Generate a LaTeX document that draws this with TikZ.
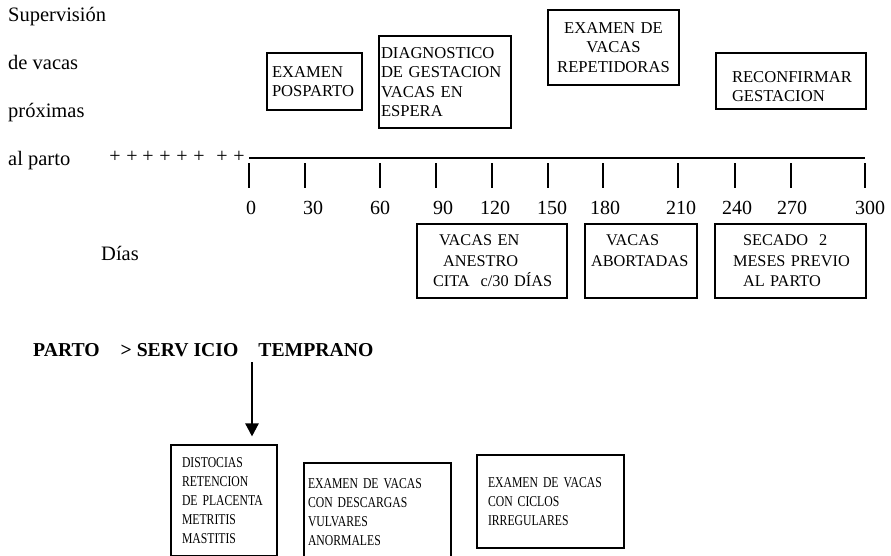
\documentclass[tikz,border=0pt]{standalone}
\usepackage{fontspec}
\setmainfont{Liberation Serif}
\newfontfamily\angosta[FakeStretch=0.78]{Liberation Serif}
\usetikzlibrary{arrows.meta}
\tikzset{
  rotulo/.style={anchor=base west, inner sep=0pt, font=\fontsize{20.5}{24}\selectfont},
  cruz/.style={inner sep=0pt, font=\fontsize{20}{24}\selectfont},
  cifra/.style={anchor=base, inner sep=0pt, font=\fontsize{20}{24}\selectfont},
  eje/.style={line width=1.3pt},
  caja/.style={draw, line width=1.1pt, align=left, inner ysep=0pt, font=\fontsize{16.6}{19.5}\selectfont},
  cajamedia/.style={caja, font=\fontsize{16.3}{20.5}\selectfont},
  cajabaja/.style={caja, font=\angosta\fontsize{15}{18.8}\selectfont},
  titulo/.style={anchor=base west, inner sep=0pt, font=\bfseries\fontsize{19.7}{24}\selectfont},
  flecha/.style={line width=2.4pt, -{Triangle[width=13pt,length=13pt]}},
}
\begin{document}
\begin{tikzpicture}[x=1pt,y=-1pt]
\useasboundingbox (0,0) rectangle (891,555);
\clip (0,0) rectangle (891,555);

% Labels on the left
\node[rotulo] (sup) at (8,21) {Supervisión};
\node[rotulo] (vacas) at (8,69) {de vacas};
\node[rotulo] (prox) at (8,117) {próximas};
\node[rotulo] (parto) at (8,165) {al parto};
\node[rotulo] (dias) at (101,260) {Días};

% Crosses before day zero
\foreach \px [count=\i] in {115,132,148,165,182,199,222,239}
  \node[cruz] (cruz\i) at (\px,157) {+};

% Drawing time line and ticks
\coordinate (t0) at (249,158);
\coordinate (tfin) at (865,158);
\draw[eje] (t0) -- (tfin);
\foreach \tx/\lx/\d in {249/251/0, 305/313/30, 380/380/60, 436/443/90,
    492/495/120, 548/552/150, 603/605/180, 678/681/210, 735/737/240,
    791/792/270, 865/870/300} {
  \draw[eje] (\tx,163) -- (\tx,188);
  \node[cifra] (dia\d) at (\lx,214) {\d};
}

% Boxes above the line
\node[caja, minimum width=95pt, minimum height=57pt, text width=85pt, inner xsep=5pt]
  (posparto) at (314.5,81.5) {EXAMEN\\POSPARTO};
\node[caja, minimum width=132pt, minimum height=92pt, text width=128pt, inner xsep=2pt]
  (diagnostico) at (445,82) {DIAGNOSTICO\\DE GESTACION\\VACAS EN\\ESPERA};
\node[caja, align=center, minimum width=131pt, minimum height=75pt, text width=127pt, inner xsep=2pt]
  (repetidoras) at (613.5,47.5) {EXAMEN DE\\VACAS\\REPETIDORAS};
\node[caja, minimum width=150pt, minimum height=56pt, text width=118pt, inner xsep=16pt]
  (reconfirmar) at (791,81) {\rule{0pt}{22pt}RECONFIRMAR\\GESTACION};

% Boxes below the line
\node[cajamedia, minimum width=150pt, minimum height=74pt, text width=118pt, inner xsep=16pt]
  (anestro) at (492,261) {\hspace*{6pt}VACAS~EN\\\hspace*{10pt}ANESTRO\\CITA~~c/30~DÍAS};
\node[cajamedia, minimum width=112pt, minimum height=74pt, text width=100pt, inner xsep=6pt]
  (abortadas) at (641,261) {\hspace*{15pt}VACAS\\ABORTADAS\\\mbox{}};
\node[cajamedia, minimum width=151pt, minimum height=74pt, text width=131pt, inner xsep=10pt]
  (secado) at (790.5,261) {\hspace*{18pt}SECADO~~2\\\hspace*{8pt}MESES~PREVIO\\\hspace*{18pt}AL~PARTO};

% Early service
\node[titulo] (servicio) at (33,356) {PARTO\hspace{21pt}> SERV ICIO\hspace{20pt}TEMPRANO};
\node[cajabaja, minimum width=106pt, minimum height=111pt, text width=84pt, inner xsep=11pt]
  (distocias) at (224,500.5) {DISTOCIAS\\RETENCION\\DE~PLACENTA\\METRITIS\\MASTITIS};
\node[cajabaja, minimum width=147pt, minimum height=98pt, text width=139pt, inner xsep=4pt]
  (descargas) at (377.5,512) {EXAMEN DE VACAS\\CON DESCARGAS\\VULVARES\\ANORMALES};
\node[cajabaja, minimum width=147pt, minimum height=93pt, text width=125pt, inner xsep=11pt]
  (ciclos) at (550.5,501.5) {EXAMEN DE VACAS\\CON CICLOS\\IRREGULARES};

\coordinate (inicio) at (252,362);
\draw[flecha, shorten >=8pt] (inicio) -- (inicio |- distocias.north);
\end{tikzpicture}
\end{document}
